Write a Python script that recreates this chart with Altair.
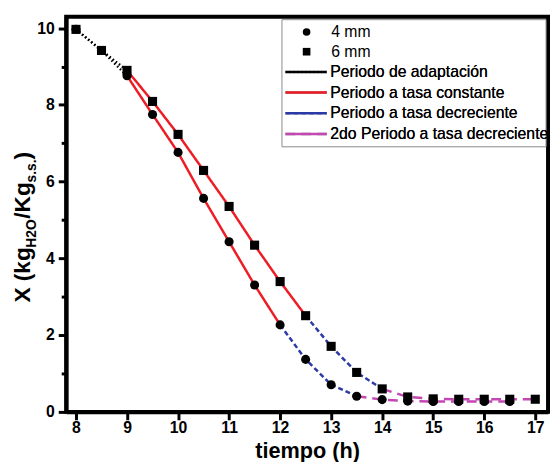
import altair as alt
import pandas as pd

# ---------------- data ----------------
t_4mm = [8, 8.5, 9, 9.5, 10, 10.5, 11, 11.5, 12, 12.5, 13, 13.5, 14, 14.5, 15, 15.5, 16, 16.5]
x_4mm = [9.97, 9.42, 8.76, 7.75, 6.76, 5.56, 4.43, 3.30, 2.26, 1.36, 0.70, 0.40, 0.31, 0.27, 0.26, 0.26, 0.26, 0.26]

t_6mm = [8, 8.5, 9, 9.5, 10, 10.5, 11, 11.5, 12, 12.5, 13, 13.5, 14, 14.5, 15, 15.5, 16, 16.5, 17]
x_6mm = [9.97, 9.42, 8.90, 8.09, 7.23, 6.29, 5.35, 4.34, 3.39, 2.50, 1.70, 1.02, 0.59, 0.38, 0.33, 0.32, 0.32, 0.32, 0.32]

series_names = ["4 mm", "6 mm"]
periods = ["Periodo de adaptación", "Periodo a tasa constante",
           "Periodo a tasa decreciente", "2do Periodo a tasa decreciente"]
# period boundaries (h): start, end of each period, per sample
bounds_4mm = [8, 9, 12, 13.5, 16.5]
bounds_6mm = [8, 9, 12.5, 14, 17]

x_ticks = [8, 8.5, 9, 9.5, 10, 10.5, 11, 11.5, 12, 12.5, 13, 13.5, 14, 14.5, 15, 15.5, 16, 16.5, 17]
y_ticks = [0, 1, 2, 3, 4, 5, 6, 7, 8, 9, 10]

# ---------------- tables ----------------
pts = pd.DataFrame(
    [{"t": t, "X": x, "serie": series_names[0]} for t, x in zip(t_4mm, x_4mm)]
    + [{"t": t, "X": x, "serie": series_names[1]} for t, x in zip(t_6mm, x_6mm)]
)

rows = []
for name, ts, xs, b in [(series_names[0], t_4mm, x_4mm, bounds_4mm),
                        (series_names[1], t_6mm, x_6mm, bounds_6mm)]:
    for i, p in enumerate(periods):
        for t, x in zip(ts, xs):
            if b[i] <= t <= b[i + 1]:
                rows.append({"t": t, "X": x, "serie": name, "periodo": p,
                             "grupo": name + p, "orden": t})
lines = pd.DataFrame(rows)

FONT = "Liberation Sans"

xscale = alt.Scale(domain=[7.807, 17.25], nice=False, zero=False)
yscale = alt.Scale(domain=[-0.01, 10.3], nice=False, zero=False)

xaxis = alt.Axis(
    values=x_ticks, labelExpr="datum.value % 1 === 0 ? datum.label : ''",
    grid=False, tickSize={"condition": {"test": "datum.value % 1 === 0", "value": 8}, "value": 5},
    labelPadding=0, labelFont=FONT, labelFontSize=16, labelFontWeight="bold", labelColor="black",
    title="tiempo (h)", titleFont=FONT, titleFontSize=22, titleFontWeight="bold",
    titleColor="black", titleBaseline="alphabetic", titleY=46, labelFlush=False,
)
yaxis = alt.Axis(
    values=y_ticks, labelExpr="datum.value % 2 === 0 ? datum.label : ''",
    grid=False, tickSize={"condition": {"test": "datum.value % 2 === 0", "value": 8}, "value": 5},
    labelPadding=4, labelFont=FONT, labelFontSize=16, labelFontWeight="bold", labelColor="black",
    title=None, labelFlush=False,
)

line_legend = alt.Legend(
    title=None, orient="none", legendX=220, legendY=48, symbolType="M-4.2,0H4.2",
    symbolSize=100, symbolStrokeWidth=2.5, symbolOffset=15.5, labelOffset=16.5,
    labelFont=FONT, labelFontSize=16, labelColor="black", labelLimit=400,
    rowPadding=5, padding=0,
)
shape_legend = alt.Legend(
    title=None, orient="none", legendX=236, legendY=7.5, symbolSize=60,
    symbolFillColor="black", symbolStrokeWidth=0, labelOffset=17,
    labelFont=FONT, labelFontSize=16, labelColor="black", labelLimit=400,
    rowPadding=4, padding=0,
)

box = alt.Chart(pd.DataFrame({"a": [0]})).mark_rect(
    fill="white", stroke="#8a8a8a", strokeWidth=1
).encode(x=alt.value(219), x2=alt.value(487), y=alt.value(3), y2=alt.value(132))

line_layer = alt.Chart(lines).mark_line(strokeWidth=2.5).encode(
    x=alt.X("t:Q", scale=xscale, axis=xaxis),
    y=alt.Y("X:Q", scale=yscale, axis=yaxis),
    detail="grupo:N",
    order="orden:Q",
    color=alt.Color("periodo:N", scale=alt.Scale(
        domain=periods, range=["black", "#ee1c24", "#2b3aa6", "#c447b4"]), legend=line_legend),
    strokeDash=alt.StrokeDash("periodo:N", scale=alt.Scale(
        domain=periods, range=[[1.5, 2.5], [1, 0], [5, 3], [10, 6]]), legend=line_legend),
)

point_layer = alt.Chart(pts).mark_point(filled=True, size=85, opacity=1, color="black").encode(
    x=alt.X("t:Q", scale=xscale),
    y=alt.Y("X:Q", scale=yscale),
    shape=alt.Shape("serie:N", scale=alt.Scale(domain=series_names, range=["circle", "square"]),
                    legend=shape_legend),
)

# y-axis title with subscripts, built from text pieces (text, y centre, x baseline, size)
title_parts = [
    ("X (kg", 262.0, -37, 23),
    ("H2O", 220.0, -31, 14),
    ("/Kg", 186.5, -37, 23),
    ("s.s.", 156.5, -31, 14),
    (")", 141.0, -37, 23),
]
title_layers = [
    alt.Chart(pd.DataFrame({"a": [0]})).mark_text(
        angle=270, align="center", baseline="alphabetic", font=FONT,
        fontWeight="bold", fontSize=fs, color="black"
    ).encode(x=alt.value(px), y=alt.value(py), text=alt.value(txt))
    for txt, py, px, fs in title_parts
]

chart = alt.layer(box, line_layer, point_layer, *title_layers).resolve_legend(
    color="independent", shape="independent"
).properties(
    width=489, height=401,
    autosize=alt.AutoSizeParams(type="none"),
    padding={"left": 59, "top": 5.5, "right": 2, "bottom": 47.5},
).configure_view(
    stroke="black", strokeWidth=4
).configure_axis(
    domainColor="black", domainWidth=4, tickColor="black", tickWidth=3,
)

chart.save("out.html", embed_options={"renderer": "svg", "actions": False})
